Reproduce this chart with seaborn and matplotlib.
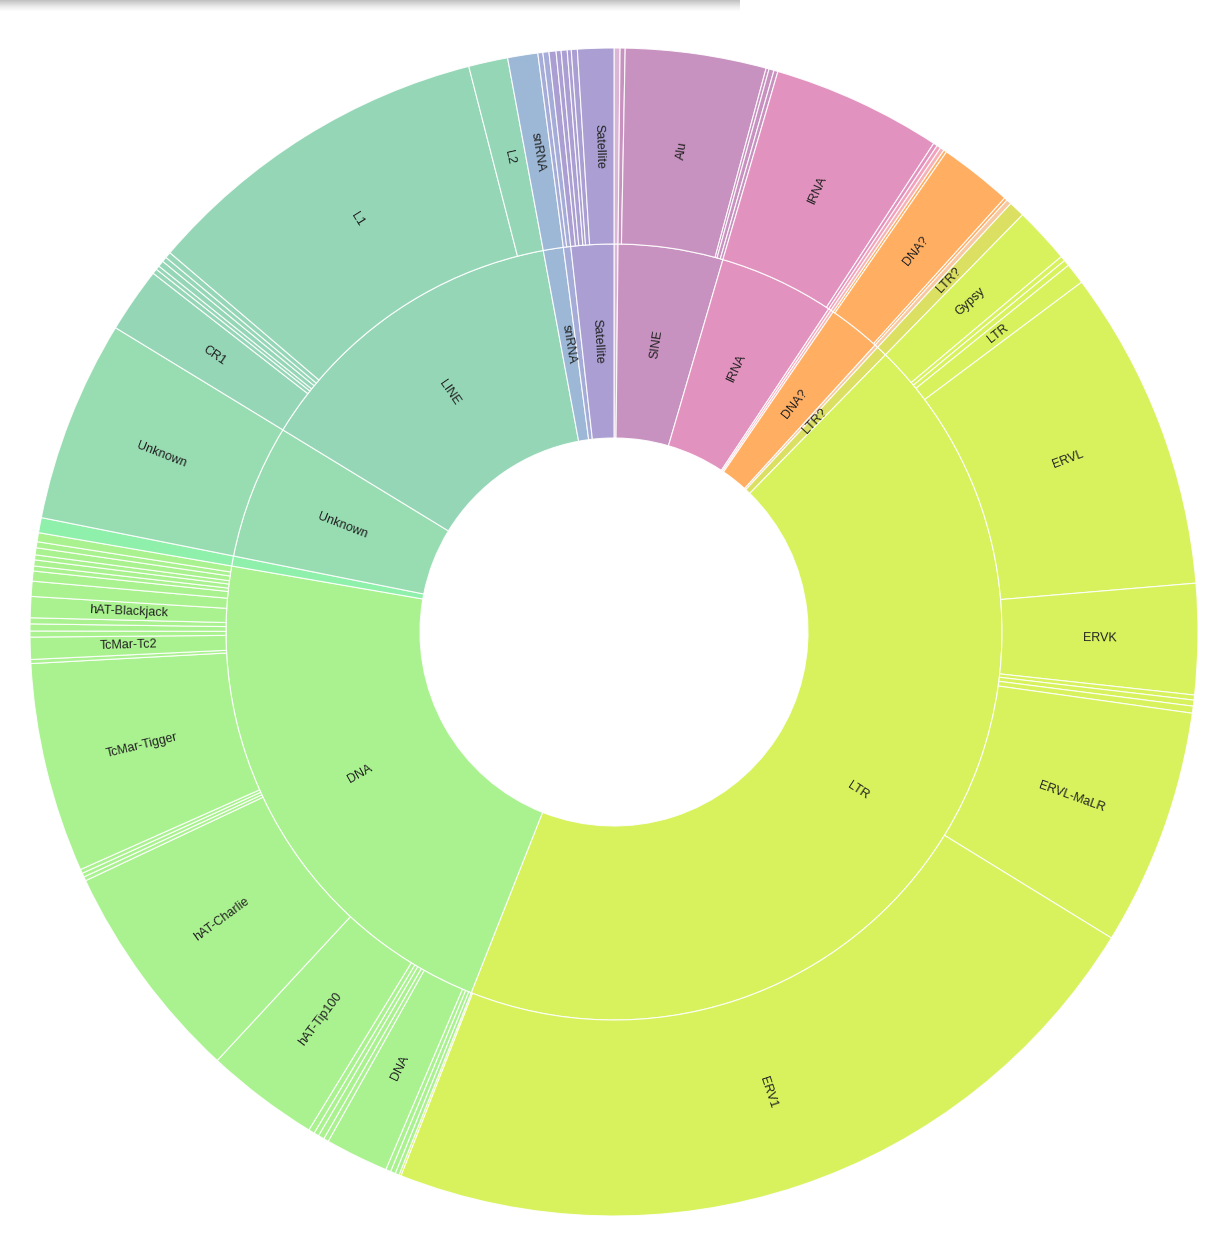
import numpy as np
import pandas as pd
import matplotlib
matplotlib.use("Agg")
import matplotlib.pyplot as plt
import seaborn as sns

# --- 1. Repeat families (inner ring), clockwise from 12 o'clock ---
families = ["tRNA", "SINE", "lRNA", "scRNA", "srpRNA", "DNA?", "rRNA", "LTR?",
            "LTR", "DNA", "RC", "Unknown", "LINE", "snRNA", "Other", "Satellite"]

family_colors = ["#dcb6d6", "#c892c0", "#e292be", "#f2a2bc", "#f6b2b6", "#ffae62",
                 "#f8c8a2", "#dbe062", "#d7f25c", "#aaf290", "#8ef0aa", "#98dcb2",
                 "#94d6b6", "#9cb8d6", "#a6acd8", "#aa9ed2"]

# --- 2. Subfamilies (outer ring); "" = unnamed small subfamily ---
sub_family = (["tRNA"]
              + ["SINE"] * 5
              + ["lRNA"] * 2
              + ["scRNA", "srpRNA"]
              + ["DNA?"] * 3
              + ["rRNA", "LTR?"]
              + ["LTR"] * 12
              + ["DNA"] * 28
              + ["RC", "Unknown"]
              + ["LINE"] * 8
              + ["snRNA"]
              + ["Other"] * 2
              + ["Satellite"] * 6)

sub_names = (["",
              "", "Alu", "", "", "",
              "lRNA", "",
              "", "",
              "", "DNA?", "",
              "", "LTR?",
              "Gypsy", "", "", "LTR", "ERVL", "ERVK", "", "", "", "ERVL-MaLR", "ERV1", "",
              "", "", "", "DNA", "", "", "", "", "hAT-Tip100", "hAT-Charlie", "", "", "",
              "TcMar-Tigger", "", "TcMar-Tc2", "", "", "", "hAT-Blackjack",
              "", "", "", "", "", "", "", "",
              "", "Unknown",
              "CR1", "", "", "", "", "", "L1", "L2",
              "snRNA",
              "", "",
              "", "", "", "", "", "Satellite"])

sub_values = ([0.6,
               0.5, 14.0, 0.3, 0.5, 0.4,
               16.9, 0.4,
               0.4, 0.4,
               0.3, 7.3, 0.3,
               0.5, 1.6,
               5.6, 0.5, 0.6, 2.1, 32.0, 11.0, 0.5, 0.6, 0.7, 23.6, 79.8, 0.2,
               0.4, 0.5, 0.5, 6.3, 0.5, 0.6, 0.5, 0.6, 11.3, 22.0, 0.4, 0.4, 0.4,
               20.9, 0.4, 2.2, 0.6, 0.7, 0.6, 2.1,
               1.5, 1.0, 0.5, 0.6, 0.5, 0.7, 0.6, 0.9,
               1.5, 20.1,
               6.5, 0.5, 0.4, 0.6, 0.5, 0.6, 35.1, 3.9,
               3.0,
               0.5, 0.6,
               0.7, 0.5, 0.6, 0.4, 0.6, 3.6])

df = pd.DataFrame({"family": sub_family, "name": sub_names, "value": sub_values})
fam = df.groupby("family", sort=False)["value"].sum().reindex(families)
color_of = dict(zip(families, family_colors))

# --- 3. Figure ---
sns.set_theme(style="white")
plt.rcParams["font.family"] = ["Liberation Sans", "DejaVu Sans"]

W, H = 1224, 1236
fig = plt.figure(figsize=(W / 100, H / 100), dpi=100)
fig.patch.set_facecolor("white")
ax = fig.add_axes([0, 0, 1, 1])

cx, cy = 614, H - 632
r0, r1, r2 = 194, 388, 584
edge = dict(edgecolor=(1, 1, 1, 0.9), linewidth=0.8)

ax.pie(fam.values, radius=r1, center=(cx, cy), startangle=90, counterclock=False,
       colors=[color_of[f] for f in fam.index],
       wedgeprops=dict(width=r1 - r0, **edge))
ax.pie(df["value"], radius=r2, center=(cx, cy), startangle=90, counterclock=False,
       colors=[color_of[f] for f in df["family"]],
       wedgeprops=dict(width=r2 - r1, **edge))


def put_labels(names, values, r_mid):
    vals = np.asarray(values, dtype=float)
    ang = vals / vals.sum() * 360
    ends = np.cumsum(ang)
    for name, a, e in zip(names, ang, ends):
        if not name or a < 1.55:
            continue
        th = e - a / 2
        t = np.radians(th)
        rot = 90 - th if th < 180 else 270 - th
        ax.text(cx + r_mid * np.sin(t), cy + r_mid * np.cos(t), name,
                rotation=rot, rotation_mode="anchor", ha="center", va="center",
                fontsize=9, color="#222222")


put_labels(fam.index, fam.values, (r0 + r1) / 2)
put_labels(df["name"], df["value"], (r1 + r2) / 2)

# faint shadow band of the page header at the top left
grad = np.linspace(0.35, 0, 12).reshape(-1, 1)
ax.imshow(grad, extent=(0, 740, H - 12, H), cmap="Greys", vmin=0, vmax=1,
          aspect="auto", zorder=0)

ax.set_xlim(0, W)
ax.set_ylim(0, H)
ax.set_aspect("auto")
ax.axis("off")

fig.savefig("out.png", dpi=100, facecolor="white")
